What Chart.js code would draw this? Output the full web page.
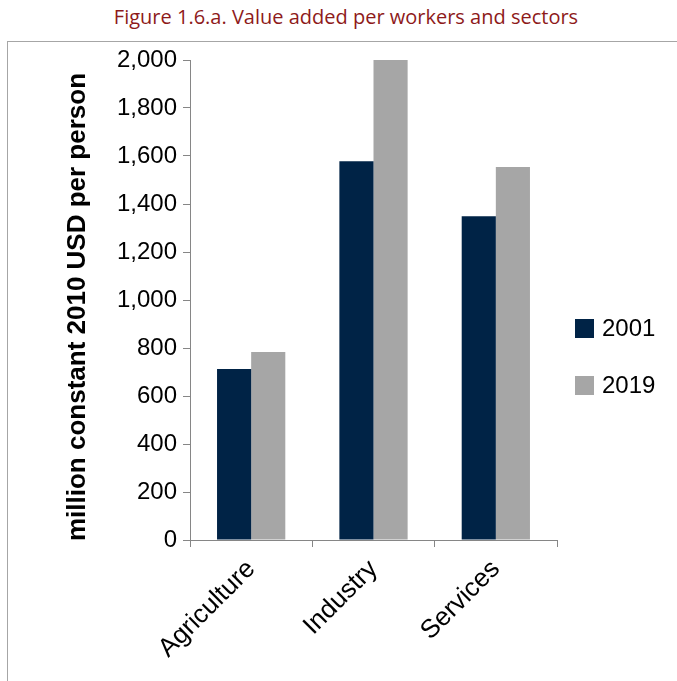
<!DOCTYPE html>
<html>
<head>
<meta charset="utf-8">
<script src="https://cdn.jsdelivr.net/npm/chart.js@4"></script>
<style>
  html, body { margin: 0; padding: 0; background: #fff; }
  #wrap { position: relative; width: 677px; height: 681px; overflow: hidden; }
  #fig-title {
    position: absolute; left: 0; top: 3px; width: 692px; text-align: center;
    font-family: "Open Sans", "Noto Sans", sans-serif; font-size: 20px; color: #8e1a1a;
  }
  #frame {
    position: absolute; left: 7px; top: 41px; width: 690px; height: 660px;
    border-left: 1px solid #a6a6a6; border-top: 1px solid #a6a6a6;
  }
  #chart { position: absolute; left: 0; top: 0; }
</style>
</head>
<body>
<div id="wrap">
  <div id="fig-title">Figure 1.6.a. Value added per workers and sectors</div>
  <div id="frame"></div>
  <canvas id="chart" width="677" height="681"></canvas>
</div>
<script>
// sectors and value added per worker (million constant 2010 USD per person)
const sectors = ['Agriculture', 'Industry', 'Services'];
const years = ['2001', '2019'];
const values2001 = [713, 1578, 1349];
const values2019 = [783, 2000, 1554];
const yTicks = [0, 200, 400, 600, 800, 1000, 1200, 1400, 1600, 1800, 2000];
const yTitle = 'million constant 2010 USD per person';

const COLORS = ['#002346', '#a6a6a6'];
const AXIS = '#868686';
const FONT = '"Liberation Sans", Arial, sans-serif';

// rotated axis title, sits a little below the plot's middle
const yAxisTitle = {
  id: 'yAxisTitle',
  afterDraw(chart) {
    const { ctx, chartArea } = chart;
    ctx.save();
    ctx.translate(78, (chartArea.top + chartArea.bottom) / 2 + 7);
    ctx.rotate(-Math.PI / 2);
    ctx.font = 'bold 26px ' + FONT;
    ctx.fillStyle = '#000';
    ctx.textAlign = 'center';
    ctx.textBaseline = 'middle';
    ctx.fillText(yTitle, 0, 0);
    ctx.restore();
  }
};

// legend on the right, squares + year labels
const sideLegend = {
  id: 'sideLegend',
  afterDraw(chart) {
    const ctx = chart.ctx;
    ctx.save();
    ctx.font = '24px ' + FONT;
    ctx.textBaseline = 'middle';
    chart.data.datasets.forEach((ds, i) => {
      const y = 319 + i * 57;
      ctx.fillStyle = ds.backgroundColor;
      ctx.fillRect(575, y, 19, 19);
      ctx.fillStyle = '#000';
      ctx.fillText(ds.label, 602, y + 10);
    });
    ctx.restore();
  }
};

new Chart(document.getElementById('chart'), {
  type: 'bar',
  data: {
    labels: sectors,
    datasets: [
      { label: years[0], data: values2001, backgroundColor: COLORS[0] },
      { label: years[1], data: values2019, backgroundColor: COLORS[1] }
    ]
  },
  options: {
    responsive: false,
    animation: false,
    layout: { padding: { top: 60, right: 120, left: 0, bottom: 0 } },
    datasets: { bar: { categoryPercentage: 0.558, barPercentage: 1 } },
    plugins: { legend: { display: false }, tooltip: { enabled: false } },
    scales: {
      x: {
        grid: { offset: true, drawOnChartArea: false, tickLength: 7, color: AXIS },
        border: { color: AXIS },
        ticks: {
          color: '#000', font: { family: FONT, size: 26 },
          minRotation: 45, maxRotation: 45, padding: 7
        },
        afterFit: s => { s.height = 141; }
      },
      y: {
        min: 0, max: 2000,
        afterBuildTicks: s => { s.ticks = yTicks.map(v => ({ value: v })); },
        grid: { drawOnChartArea: false, tickLength: 7, color: AXIS },
        border: { color: AXIS },
        ticks: {
          color: '#000', font: { family: FONT, size: 24 }, padding: 6,
          callback: v => v.toLocaleString('en-US')
        },
        afterFit: s => { s.width = 190; }
      }
    }
  },
  plugins: [yAxisTitle, sideLegend]
});
</script>
</body>
</html>
